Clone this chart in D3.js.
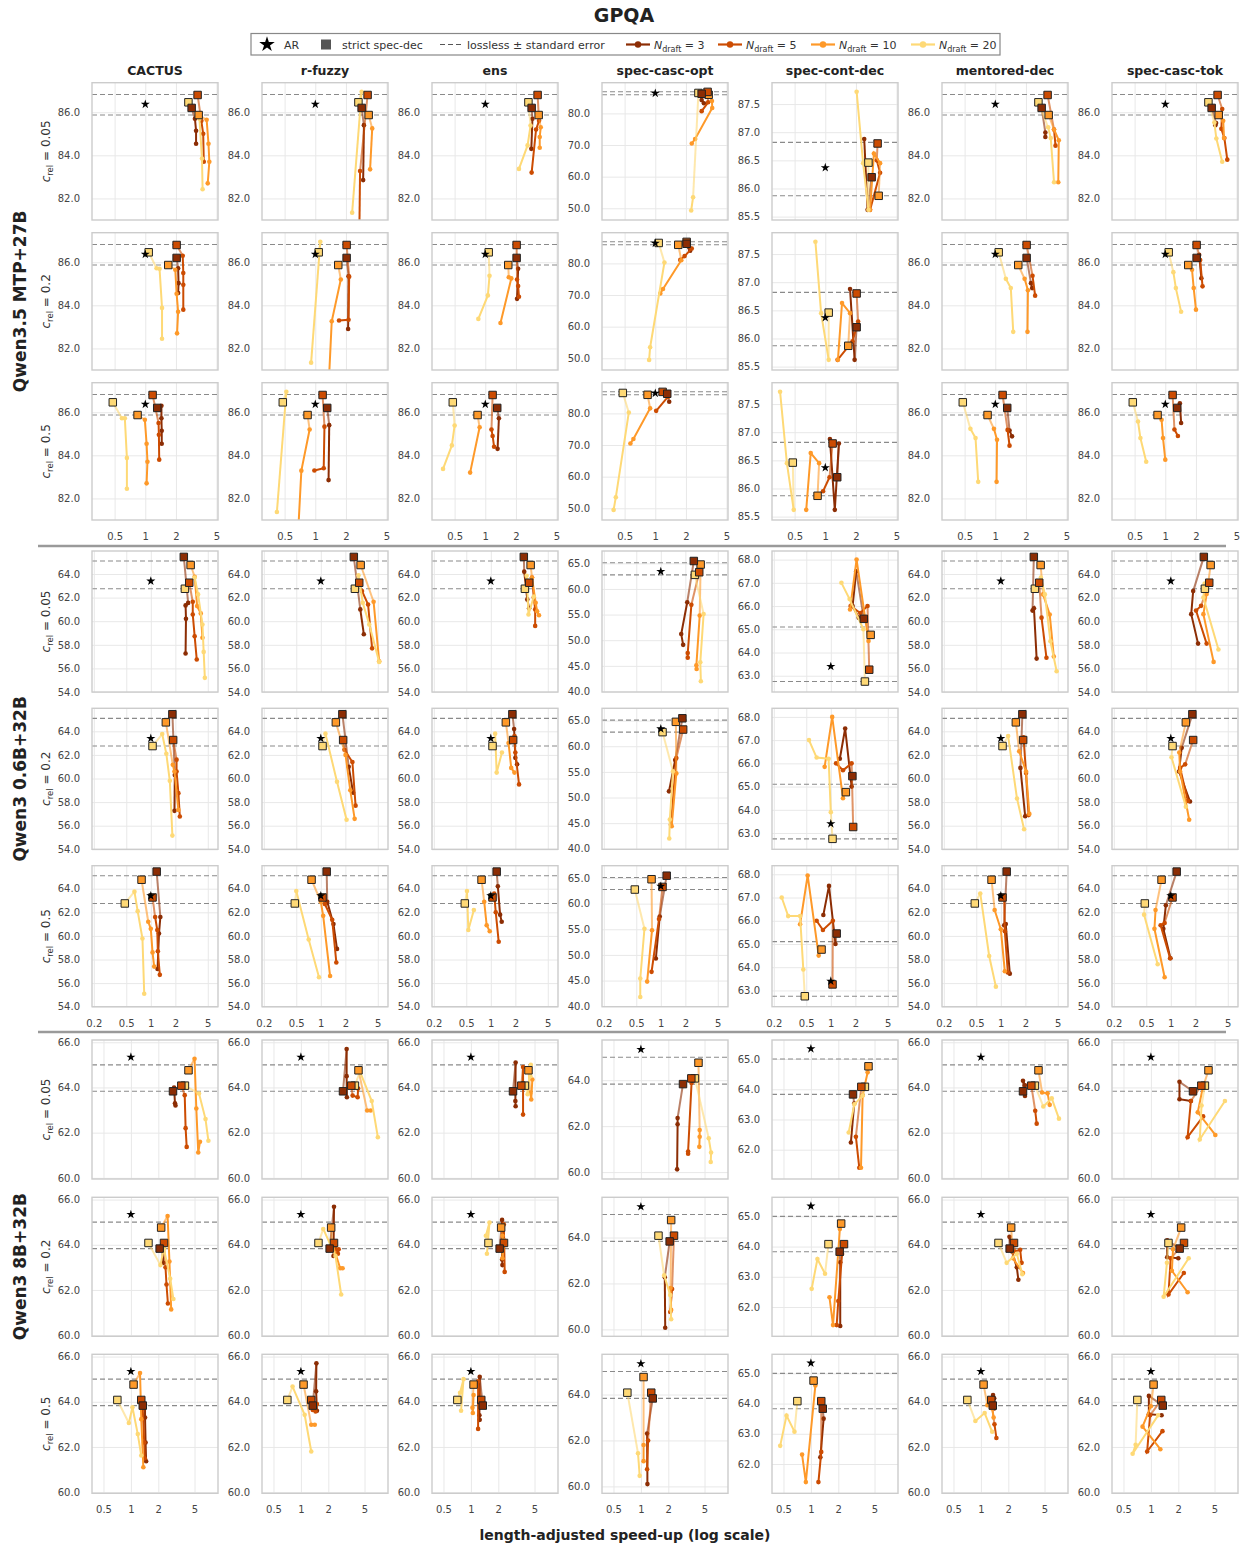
<!DOCTYPE html>
<html>
<head>
<meta charset="utf-8">
<script src="https://cdn.jsdelivr.net/npm/d3@7"></script>
<style>
  body { margin: 0; background: #fff; }
  text { font-family: "DejaVu Sans", sans-serif; }
</style>
</head>
<body>
<svg width="1245" height="1548"></svg>
<script>
// ---- data ----
const methods = ['CACTUS', 'r-fuzzy', 'ens', 'spec-casc-opt', 'spec-cont-dec', 'mentored-dec', 'spec-casc-tok'];
const models = ['Qwen3.5 MTP+27B', 'Qwen3 0.6B+32B', 'Qwen3 8B+32B'];
const cRel = ['0.05', '0.2', '0.5'];
const nDraft = [3, 5, 10, 20];

// AR accuracy and lossless band (mean ± s.e.) per model
const arAcc = [86.37, 63.4, 65.34];
const losslessBand = [[85.87, 86.82], [62.75, 65.1], [63.83, 65.0]];

// strict spec-dec accuracy per model, per N_draft
const strictAcc = [
  [86.2, 86.8, 85.87, 86.46],
  [65.45, 63.26, 64.76, 62.75],
  [63.83, 64.08, 64.76, 64.08]
];
// strict spec-dec speed-up per model, per c_rel, per N_draft
const strictSpeed = [
  [[2.85, 3.26, 3.34, 2.65], [2.03, 2.03, 1.68, 1.08], [1.31, 1.18, 0.84, 0.48]],
  [[2.54, 2.96, 3.08, 2.62], [1.84, 1.88, 1.53, 1.05], [1.18, 1.05, 0.77, 0.48]],
  [[2.9, 3.58, 4.29, 3.92], [2.07, 2.31, 2.15, 1.56], [1.35, 1.30, 1.07, 0.71]]
];

// relaxed points [speed-up, accuracy], per method, per N_draft (3,5,10,20)
const q35_c005 = [
  [[[3.07,85.7],[3.15,85.14],[3.15,84.54]], [[3.55,85.6],[3.7,85.0],[3.75,83.7]], [[4.0,85.65],[4.17,84.54],[4.25,83.7],[4.1,82.7]], [[3.4,85.7],[3.6,83.85],[3.65,82.43]]],
  [[[3.0,85.4],[2.95,82.85]], [[2.75,83.27],[2.7,80.0]], [[3.62,85.25],[3.45,83.35]], [[2.85,86.95],[2.3,81.34]]],
  [[[2.9,85.7],[2.83,84.3]], [[3.37,85.6],[3.15,85.2],[2.85,83.2]], [[3.5,85.3],[3.42,84.85],[3.42,84.35]], [[2.78,85.38],[2.6,84.46],[2.14,83.37]]],
  [[[2.85,84.2],[3.0,83.2]], [[3.3,83.5],[2.85,80.7]], [[3.6,83.9],[3.62,81.7],[2.46,71.9],[2.28,70.5]], [[2.35,53.5],[2.25,49.3]]],
  [[[2.6,85.62],[2.41,86.88]], [[3.2,86.5],[3.45,86.28],[2.75,85.62]], [[3.45,86.45],[3.0,86.62],[2.75,85.62]], [[2.65,85.62],[2.35,86.45],[2.03,87.72]]],
  [[[3.1,85.06],[3.1,84.85]], [[3.77,85.2],[3.9,84.45]], [[3.77,85.2],[4.2,84.7],[4.15,82.75]], [[3.3,85.3],[3.5,84.8],[3.77,82.75]]],
  [[[3.15,85.5],[3.1,85.4]], [[3.62,86.15],[3.55,85.23],[3.8,84.8],[4.06,83.8]], [[3.7,85.6],[3.77,84.8]], [[3.03,85.52],[3.17,84.78],[3.62,83.7]]]
];
const q35_c02 = [
  [[[2.1,85.72],[2.12,85.03],[2.1,84.57]], [[2.33,86.3],[2.36,85.5],[2.36,84.95],[2.36,83.8]], [[1.97,85.65],[2.03,84.54],[2.1,83.7],[2.05,82.7]], [[1.29,85.72],[1.38,85.7],[1.46,83.88],[1.46,82.45]]],
  [[[2.12,85.35],[2.1,82.9]], [[2.15,85.33],[2.12,83.33],[1.71,83.3]], [[1.78,85.2],[1.45,83.26],[1.36,80.5]], [[1.12,86.95],[0.91,81.34]]],
  [[[2.1,85.7],[2.05,84.3]], [[2.05,85.2],[2.1,84.9],[2.14,84.4]], [[1.7,85.3],[1.8,85.25],[1.41,83.18]], [[1.1,85.37],[1.06,84.46],[0.855,83.37]]],
  [[[2.15,85.0],[2.2,84.0]], [[2.28,84.7],[1.94,82.3],[1.76,81.1]], [[1.8,81.0],[1.19,71.9],[1.12,70.5]], [[1.23,80.3],[0.89,53.5],[0.87,49.5]]],
  [[[1.94,85.62],[1.75,86.88]], [[2.1,86.3],[1.85,85.95],[1.32,85.62]], [[1.75,86.45],[1.46,86.63],[1.33,85.62]], [[1.08,85.62],[0.91,86.45],[0.8,87.72]]],
  [[[2.24,85.03],[2.3,84.8]], [[2.32,85.37],[2.46,84.45]], [[1.94,85.23],[2.09,84.7],[2.07,82.77]], [[1.27,85.23],[1.42,84.8],[1.5,82.77]]],
  [[[2.15,86.34],[2.26,85.26]], [[2.2,86.1],[2.32,84.88]], [[1.83,85.65],[1.9,84.8],[2.0,83.8]], [[1.2,85.54],[1.27,84.8],[1.43,83.7]]]
];
const q35_c05 = [
  [[[1.44,86.3],[1.44,85.72],[1.45,85.14],[1.45,84.54]], [[1.35,85.5],[1.36,84.95],[1.37,83.8]], [[0.99,85.65],[1.03,84.54],[1.05,83.7],[1.03,82.7]], [[0.59,85.72],[0.63,85.72],[0.66,83.88],[0.66,82.45]]],
  [[[1.37,85.4],[1.35,82.85]], [[1.23,85.33],[1.21,83.4],[0.98,83.3]], [[0.88,85.2],[0.73,83.29],[0.68,80.5]], [[0.52,86.95],[0.42,81.37]]],
  [[[1.36,85.72],[1.32,84.3]], [[1.15,85.2],[1.18,84.9],[1.22,84.4]], [[0.88,85.3],[0.71,83.2]], [[0.5,85.38],[0.47,84.46],[0.385,83.37]]],
  [[[1.37,83.7]], [[1.33,85.2],[1.02,80.8]], [[0.89,81.6],[0.61,71.9],[0.57,70.5]], [[0.55,80.3],[0.41,53.5],[0.39,49.5]]],
  [[[1.36,86.8],[1.24,85.62],[1.11,86.88]], [[1.1,86.2],[0.95,85.95]], [[0.87,86.45],[0.72,86.63],[0.65,85.62]], [[0.49,85.62],[0.42,86.45],[0.36,87.72]]],
  [[[1.38,85.15],[1.46,84.88]], [[1.32,85.18],[1.38,84.45]], [[0.97,85.23],[1.04,84.72],[1.03,82.77]], [[0.57,85.23],[0.64,84.8],[0.68,82.77]]],
  [[[1.39,86.42],[1.43,85.5]], [[1.23,85.2],[1.33,84.9]], [[0.92,85.65],[0.95,84.8],[1.0,83.8]], [[0.54,85.57],[0.57,84.8],[0.65,83.7]]]
];
const q06_c005 = [
  [[[2.87,61.55],[2.67,61.34],[2.7,60.2],[2.67,57.26]], [[3.27,61.65],[3.27,60.57],[3.45,58.73],[3.66,56.75]], [[3.45,63.77],[3.7,61.28],[4.1,60.66],[4.3,58.6]], [[3.45,63.7],[3.8,62.27],[4.3,59.72],[4.45,57.4],[4.6,55.2]]],
  [[[3.05,61.0],[3.37,58.9]], [[3.2,62.56],[3.8,61.42],[4.26,57.7]], [[4.44,61.65],[5.2,56.6]], [[2.9,63.9],[3.27,61.56],[3.93,59.72],[5.2,56.55]]],
  [[[2.57,64.2],[2.8,61.85],[2.95,61.1]], [[3.2,63.7],[3.37,62.0],[3.5,61.0],[3.5,59.6]], [[3.2,63.7],[3.55,61.56],[3.7,60.85],[3.9,60.5]], [[2.75,63.85],[2.9,60.57],[3.37,62.1]]],
  [[[2.11,57.4],[1.78,51.2],[1.88,49.1]], [[2.37,56.9],[2.14,47.5],[2.14,46.6]], [[3.0,54.8],[2.73,45.1],[2.75,44.4]], [[3.35,55.1],[3.05,45.7],[3.1,42.0]]],
  [[[2.05,67.5],[1.85,66.0],[2.2,65.5]], [[2.82,66.0],[2.3,65.7],[1.75,66.0]], [[2.9,64.5],[2.07,68.0],[1.72,65.85]], [[2.51,65.0],[1.7,66.3],[1.35,67.0]]],
  [[[2.45,60.9],[2.55,61.1],[2.75,56.83]], [[3.16,60.3],[3.63,56.9]], [[3.3,62.27],[3.98,60.57],[4.47,57.0]], [[3.1,63.7],[3.47,62.27],[4.06,58.3],[4.84,55.76]]],
  [[[1.88,62.55],[1.78,60.6],[2.16,58.1]], [[2.35,61.3],[2.04,60.9],[2.75,58.1]], [[2.75,62.3],[2.51,60.6],[3.35,56.55]], [[2.6,63.2],[2.51,62.0],[3.84,57.6]]]
];
const q06_c02 = [
  [[[1.97,60.3],[1.95,57.26]], [[2.07,61.6],[2.07,60.6],[2.18,58.76],[2.27,56.78]], [[1.86,61.17],[1.95,60.6],[2.18,57.34]], [[1.38,63.77],[1.55,62.1],[1.71,59.8],[1.84,55.16]]],
  [[[2.2,61.0],[2.49,58.8]], [[1.95,62.44],[2.44,61.4],[2.67,57.7]], [[2.01,62.0],[2.3,59.0],[2.6,56.58]], [[1.14,63.8],[1.58,59.72],[2.07,56.5]]],
  [[[1.93,64.2],[2.0,61.75],[2.1,61.2]], [[1.95,63.6],[2.0,62.2],[2.22,59.5]], [[1.65,63.0],[1.78,60.9],[1.95,60.5]], [[1.13,63.8],[1.18,60.5],[1.37,62.2]]],
  [[[1.5,57.3],[1.26,51.2]], [[1.55,57.7],[1.33,44.7]], [[1.55,54.7],[1.36,44.4]], [[1.41,55.1],[1.29,45.7],[1.27,42.0]]],
  [[[1.8,65.0],[1.5,67.5],[1.29,66.2]], [[1.8,66.0],[1.41,65.7],[1.16,66.0]], [[1.41,64.5],[1.04,68.0],[0.84,65.85]], [[1.0,63.9],[0.94,66.2],[0.67,66.25],[0.54,67.0]]],
  [[[1.74,60.9],[1.99,56.8]], [[1.9,63.5],[2.04,60.46],[2.19,56.9]], [[1.68,62.3],[2.04,60.6],[2.24,57.0]], [[1.23,63.6],[1.58,58.3],[1.93,55.7]]],
  [[[1.36,62.6],[1.26,60.6],[1.72,58.05]], [[1.5,61.2],[1.3,60.9],[1.62,58.1]], [[1.27,62.2],[1.3,60.6],[1.68,56.5]], [[1.02,61.8],[1.53,57.6]]]
];
const q06_c05 = [
  [[[1.31,61.6],[1.26,60.2],[1.21,57.2]], [[1.13,61.6],[1.2,60.5],[1.22,58.7],[1.29,56.7]], [[0.93,61.2],[1.0,60.6],[1.05,58.6],[1.1,57.4]], [[0.63,63.75],[0.69,62.1],[0.79,59.78],[0.83,55.1]]],
  [[[1.2,62.9],[1.43,61.0],[1.58,58.9]], [[1.12,62.7],[1.38,61.36],[1.55,57.75]], [[1.0,62.9],[1.07,61.7],[1.3,56.6]], [[0.5,63.8],[0.71,59.7],[0.95,56.5]]],
  [[[1.22,64.2],[1.3,61.8],[1.36,61.2]], [[1.1,63.6],[1.15,62.0],[1.25,59.5]], [[0.83,62.9],[0.89,60.9],[0.97,60.4]], [[0.51,63.8],[0.53,60.5],[0.62,62.2]]],
  [[[0.97,57.5],[0.87,49.3]], [[0.95,57.0],[0.77,46.7]], [[0.78,54.8],[0.68,44.8]], [[0.63,55.1],[0.56,45.4],[0.56,41.8]]],
  [[[1.14,65.0],[0.95,67.5],[0.81,66.25]], [[1.06,66.0],[0.8,65.6],[0.67,66.0]], [[0.71,64.5],[0.52,67.95],[0.42,65.85]], [[0.46,63.9],[0.42,66.2],[0.3,66.2],[0.25,67.0]]],
  [[[1.1,60.9],[1.15,61.0],[1.29,56.8]], [[1.1,63.3],[1.12,60.4],[1.22,56.9]], [[0.84,62.2],[1.0,60.57],[1.12,57.0]], [[0.56,63.6],[0.72,58.3],[0.87,55.7]]],
  [[[0.87,62.6],[0.81,60.6],[0.99,58.1]], [[0.84,61.1],[0.75,60.9],[0.98,58.1]], [[0.65,62.2],[0.63,60.6],[0.84,56.5]], [[0.47,61.8],[0.69,57.6]]]
];
const q8_c005 = [
  [[[2.98,64.0],[3.05,63.3],[3.09,63.2]], [[3.9,63.66],[3.99,62.2],[4.1,61.37]], [[5.0,65.27],[5.23,63.07],[5.49,61.12],[5.74,61.6]], [[5.6,63.73],[6.6,62.6],[7.1,61.64]]],
  [[[3.18,65.7],[3.18,64.5],[3.2,63.57]], [[3.7,63.64],[4.2,63.57],[4.25,63.95]], [[5.34,62.98],[5.84,62.98]], [[4.45,64.7],[6.0,63.4],[7.0,61.8]]],
  [[[3.1,65.1],[3.08,63.4],[3.1,63.17]], [[3.74,64.9],[3.74,62.8]], [[4.5,63.76],[4.6,63.47],[4.73,64.35]], [[4.2,63.7],[4.55,65.0],[4.5,64.5]]],
  [[[2.53,62.35],[2.53,62.08],[2.5,60.12]], [[3.6,63.88],[3.3,60.9],[3.3,60.8]], [[4.42,61.83],[4.42,61.54],[4.38,61.1]], [[5.56,61.47],[5.9,60.85],[5.85,60.44]]],
  [[[2.99,63.53],[2.75,62.24]], [[3.12,62.43],[3.4,61.4]], [[4.2,64.56],[3.7,63.8],[3.55,61.4]], [[3.7,63.79],[3.0,63.5],[2.6,62.57]]],
  [[[2.9,64.3],[3.05,64.1],[3.05,63.62]], [[3.95,62.97],[4.1,62.4]], [[4.7,63.78],[5.4,63.74],[5.7,63.23]], [[4.85,63.16],[6.0,63.52],[7.2,62.62]]],
  [[[2.06,64.25],[2.06,63.48],[2.75,63.4]], [[2.75,63.4],[2.53,61.8],[3.75,62.72]], [[3.7,63.96],[3.27,62.9],[5.1,61.9]], [[3.6,63.2],[3.44,61.7],[6.5,63.4]]]
];
const q8_c02 = [
  [[[2.2,64.0],[2.27,63.2]], [[2.4,63.0],[2.46,62.24],[2.55,61.4]], [[2.53,65.27],[2.65,63.26],[2.77,61.14]], [[2.11,63.1],[2.3,63.85],[2.7,62.5],[2.93,61.6]]],
  [[[2.31,65.68],[2.28,63.5],[2.35,63.8]], [[2.38,63.97],[2.55,63.6],[2.6,63.8]], [[2.2,64.1],[2.7,62.96],[2.87,62.96]], [[1.76,64.7],[2.4,63.5],[2.77,61.8]]],
  [[[2.2,65.1],[2.2,63.35],[2.22,63.1]], [[2.3,64.9],[2.35,62.8]], [[2.22,64.4],[2.22,63.4],[2.32,64.2]], [[1.46,64.4],[1.6,64.98],[1.5,63.6]]],
  [[[1.83,62.27],[1.85,60.07]], [[2.2,61.76],[2.1,60.76]], [[2.12,61.8],[2.15,60.85]], [[1.8,62.35],[2.1,61.5],[2.15,60.44]]],
  [[[2.1,63.48],[2.1,61.37]], [[2.2,63.75],[2.0,62.2],[1.92,61.4]], [[2.08,64.58],[1.75,61.4],[1.6,62.32]], [[1.43,63.1],[1.18,63.59],[1.02,62.6]]],
  [[[2.06,64.35],[2.2,63.7],[2.48,63.0],[2.58,62.45]], [[2.35,63.7],[2.7,63.78],[2.8,63.2]], [[2.25,63.4],[2.9,62.75]], [[1.92,63.2],[2.48,63.6],[2.85,62.7]]],
  [[[1.51,64.2],[1.51,63.45],[2.0,63.4]], [[1.65,63.4],[1.56,61.8],[2.3,62.75]], [[1.75,63.8],[1.7,62.85],[2.53,61.9]], [[1.5,63.2],[1.38,61.7],[2.6,63.4]]]
];
const q8_c05 = [
  [[[1.43,63.86],[1.43,63.3],[1.45,62.2],[1.47,61.37]], [[1.35,63.7],[1.4,62.2],[1.42,61.5]], [[1.26,65.27],[1.3,63.23],[1.37,61.1]], [[0.95,63.06],[1.04,63.76],[1.19,62.57],[1.3,61.62]]],
  [[[1.48,65.7],[1.47,64.46],[1.5,63.6]], [[1.35,63.64],[1.45,63.57],[1.5,63.9]], [[1.3,62.98],[1.42,62.98]], [[0.81,64.67],[1.1,63.42],[1.3,61.8]]],
  [[[1.25,65.1],[1.24,63.4],[1.25,63.2]], [[1.2,64.9],[1.2,62.8]], [[1.04,63.74],[1.05,63.5],[1.07,64.3]], [[0.76,64.4],[0.83,65.0],[0.78,63.6]]],
  [[[1.17,62.3],[1.18,60.1]], [[1.2,62.0],[1.17,60.75]], [[1.07,61.8],[1.07,61.1]], [[0.93,61.44],[0.97,60.46]]],
  [[[1.38,63.5],[1.27,62.22]], [[1.3,62.4],[1.21,61.4]], [[1.12,64.6],[0.88,61.4],[0.8,62.31]], [[0.66,63.07],[0.54,63.6],[0.46,62.6]]],
  [[[1.36,64.3],[1.4,64.15],[1.4,63.7]], [[1.41,63.0],[1.48,62.4]], [[1.18,63.85],[1.33,63.7],[1.38,63.3]], [[0.87,63.15],[1.1,63.5],[1.33,62.67]]],
  [[[0.95,64.26],[0.95,63.45],[1.31,63.4]], [[0.98,63.4],[0.91,61.8],[1.34,62.7]], [[1.0,63.8],[0.81,62.9],[1.27,61.9]], [[0.68,62.1],[0.63,61.7],[1.2,63.4]]]
];
const panelLines = [[q35_c005, q35_c02, q35_c05], [q06_c005, q06_c02, q06_c05], [q8_c005, q8_c02, q8_c05]];

// axes: per model; y kinds = [other methods, spec-casc-opt, spec-cont-dec]
const xRanges = [[0.30, 5.17], [0.19, 6.67], [0.374, 9.05]];
const xTicks = [[0.5, 1, 2, 5], [0.2, 0.5, 1, 2, 5], [0.5, 1, 2, 5]];
const yRanges = [
  [[81.0, 87.37], [46.3, 89.7], [85.44, 87.88]],
  [[54.0, 65.95], [39.9, 67.4], [62.3, 68.37]],
  [[59.95, 66.1], [59.7, 65.75], [61.03, 65.63]]
];
const yTicks = [
  [[82, 84, 86], [50, 60, 70, 80], [85.5, 86, 86.5, 87, 87.5]],
  [[54, 56, 58, 60, 62, 64], [40, 45, 50, 55, 60, 65], [63, 64, 65, 66, 67, 68]],
  [[60, 62, 64, 66], [60, 62, 64], [62, 63, 64, 65]]
];

// ---- layout ----
const svg = d3.select('svg');
const colors = ['#8c2d04', '#cc4c02', '#fe9929', '#fed976'];
const colX = d3.range(7).map(i => 92 + 170 * i);
const panelW = 126;
const rowTop = [[82.7, 232.7, 382.7], [551, 708.3, 865.7], [1040, 1197.3, 1354.3]];
const rowH = [137.3, 141, 139];
const fmtY = d3.format('.1f');
const fmtX = d3.format('~g');

svg.append('text').attr('x', 624).attr('y', 22).attr('text-anchor', 'middle')
  .attr('font-size', 19).attr('font-weight', 'bold').attr('fill', '#222').text('GPQA');

// legend
const lg = svg.append('g');
lg.append('rect').attr('x', 251).attr('y', 33.5).attr('width', 749).attr('height', 21.5)
  .attr('fill', '#fff').attr('stroke', '#888').attr('stroke-width', 1.2);
lg.append('path').attr('d', d3.symbol(d3.symbolStar, 75)())
  .attr('transform', 'translate(267,44.5)').attr('fill', '#000');
lg.append('text').attr('x', 284).attr('y', 48.5).attr('font-size', 11).attr('fill', '#333').text('AR');
lg.append('rect').attr('x', 321).attr('y', 39.5).attr('width', 10).attr('height', 10).attr('fill', '#555');
lg.append('text').attr('x', 342).attr('y', 48.5).attr('font-size', 11).attr('fill', '#333').text('strict spec-dec');
lg.append('line').attr('x1', 440).attr('x2', 463).attr('y1', 44.5).attr('y2', 44.5)
  .attr('stroke', '#555').attr('stroke-width', 1.2).attr('stroke-dasharray', '5,3');
lg.append('text').attr('x', 467).attr('y', 48.5).attr('font-size', 11).attr('fill', '#333').text('lossless ± standard error');
const legX = [626, 718, 811, 911];
nDraft.forEach((n, k) => {
  lg.append('line').attr('x1', legX[k]).attr('x2', legX[k] + 24).attr('y1', 44.5).attr('y2', 44.5)
    .attr('stroke', colors[k]).attr('stroke-width', 2.2);
  lg.append('circle').attr('cx', legX[k] + 12).attr('cy', 44.5).attr('r', 3.2).attr('fill', colors[k]);
  const t = lg.append('text').attr('x', legX[k] + 28).attr('y', 48.5).attr('font-size', 11).attr('fill', '#333');
  t.append('tspan').attr('font-style', 'italic').text('N');
  t.append('tspan').attr('font-size', 8).attr('dy', 3).text('draft');
  t.append('tspan').attr('dy', -3).text(' = ' + n);
});

// column titles
methods.forEach((m, c) => {
  svg.append('text').attr('x', colX[c] + panelW / 2).attr('y', 74.5).attr('text-anchor', 'middle')
    .attr('font-size', 12.5).attr('font-weight', 'bold').attr('fill', '#222').text(m);
});

// separators between model groups
[546, 1032].forEach(yy => {
  svg.append('line').attr('x1', 38).attr('x2', 1226).attr('y1', yy).attr('y2', yy)
    .attr('stroke', '#9a9a9a').attr('stroke-width', 2.5);
});

// model labels
models.forEach((m, g) => {
  const cy = (rowTop[g][0] + rowTop[g][2] + rowH[g]) / 2;
  svg.append('text').attr('transform', `translate(26,${cy}) rotate(-90)`).attr('text-anchor', 'middle')
    .attr('font-size', 17).attr('font-weight', 'bold').attr('fill', '#222').text(m);
});

let clipId = 0;
models.forEach((model, g) => {
  cRel.forEach((cr, r) => {
    const top = rowTop[g][r], h = rowH[g];
    // c_rel label
    const lt = svg.append('text').attr('transform', `translate(50,${top + h / 2}) rotate(-90)`)
      .attr('text-anchor', 'middle').attr('font-size', 12).attr('fill', '#333');
    lt.append('tspan').attr('font-style', 'italic').text('c');
    lt.append('tspan').attr('font-size', 8.5).attr('dy', 3).text('rel');
    lt.append('tspan').attr('dy', -3).text(' = ' + cr);

    methods.forEach((meth, c) => {
      const kind = c === 3 ? 1 : (c === 4 ? 2 : 0);
      const x = d3.scaleLog().domain(xRanges[g]).range([0, panelW]);
      const y = d3.scaleLinear().domain(yRanges[g][kind]).range([h, 0]);
      const pg = svg.append('g').attr('transform', `translate(${colX[c]},${top})`);

      // grid + tick labels via axes
      const ya = pg.append('g').call(d3.axisLeft(y).tickValues(yTicks[g][kind]).tickFormat(fmtY)
        .tickSize(-panelW).tickPadding(12));
      const xa = pg.append('g').attr('transform', `translate(0,${h})`)
        .call(d3.axisBottom(x).tickValues(xTicks[g]).tickFormat(r === 2 ? fmtX : () => '')
          .tickSize(-h).tickPadding(13));
      [ya, xa].forEach(a => {
        a.select('.domain').remove();
        a.selectAll('line').attr('stroke', '#e8e8e8').attr('stroke-width', 1);
        a.selectAll('text').attr('font-size', 10).attr('fill', '#444')
          .attr('font-family', '"DejaVu Sans", sans-serif');
      });

      // lossless band
      losslessBand[g].forEach(v => {
        pg.append('line').attr('x1', 0).attr('x2', panelW).attr('y1', y(v)).attr('y2', y(v))
          .attr('stroke', '#8a8a8a').attr('stroke-width', 1.1).attr('stroke-dasharray', '5,3');
      });

      // clipped data
      const id = 'clip' + (clipId++);
      pg.append('clipPath').attr('id', id).append('rect').attr('width', panelW).attr('height', h);
      const dg = pg.append('g').attr('clip-path', `url(#${id})`);
      const line = d3.line().x(d => x(d[0])).y(d => y(d[1]));
      const series = panelLines[g][r][c];
      series.forEach((pts, k) => {
        const sq = [strictSpeed[g][r][k], strictAcc[g][k]];
        dg.append('path').attr('d', line([sq, pts[0]])).attr('fill', 'none')
          .attr('stroke', colors[k]).attr('stroke-width', 2).attr('stroke-opacity', 0.6);
        if (pts.length > 1) {
          dg.append('path').attr('d', line(pts)).attr('fill', 'none')
            .attr('stroke', colors[k]).attr('stroke-width', 2);
        }
        dg.selectAll(null).data(pts).join('circle')
          .attr('cx', d => x(d[0])).attr('cy', d => y(d[1])).attr('r', 2.3).attr('fill', colors[k]);
      });
      // strict spec-dec squares
      [3, 2, 1, 0].forEach(k => {
        dg.append('path').attr('d', d3.symbol(d3.symbolSquare, 56)())
          .attr('transform', `translate(${x(strictSpeed[g][r][k])},${y(strictAcc[g][k])})`)
          .attr('fill', colors[k]).attr('stroke', '#222').attr('stroke-width', 1);
      });
      // AR star
      dg.append('path').attr('d', d3.symbol(d3.symbolStar, 26)())
        .attr('transform', `translate(${x(1)},${y(arAcc[g])})`).attr('fill', '#000');

      pg.append('rect').attr('width', panelW).attr('height', h).attr('fill', 'none')
        .attr('stroke', '#cccccc').attr('stroke-width', 1.4);
    });
  });
});

svg.append('text').attr('x', 625).attr('y', 1540).attr('text-anchor', 'middle')
  .attr('font-size', 14).attr('font-weight', 'bold').attr('fill', '#222')
  .text('length-adjusted speed-up (log scale)');
</script>
</body>
</html>
